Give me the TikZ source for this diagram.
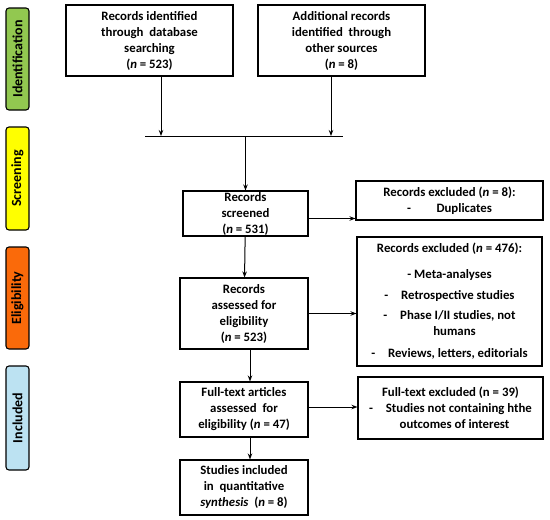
\documentclass[tikz,border=0pt]{standalone}
\usepackage{fontspec}
\setmainfont{Carlito}
\usepackage{xcolor}
\usepackage{tikz}
\usetikzlibrary{arrows.meta}
\definecolor{stgreen}{HTML}{92C850}
\definecolor{styellow}{HTML}{FFFF00}
\definecolor{storange}{HTML}{FA6A0A}
\definecolor{stblue}{HTML}{BCE2F2}

\begin{document}
\begin{tikzpicture}[x=1pt,y=-1pt,
  stage/.style={draw,line width=1.1pt,rounded corners=3pt,minimum width=23pt,
    inner sep=0pt,font=\bfseries\fontsize{14}{16}\selectfont},
  flowbox/.style={draw,line width=1.1pt,align=center,inner sep=0pt,
    font=\bfseries\fontsize{12.8}{16}\selectfont},
  arr/.style={line width=1pt,-{Stealth[length=6pt,width=4.5pt]}}]
  \useasboundingbox (0,0) rectangle (550,520);
  % stages
  \node[stage,fill=stgreen,minimum height=102pt] (ident) at (17.5,59) {\rotatebox{90}{Identification}};
  \node[stage,fill=styellow,minimum height=103pt] (screen) at (17.5,178.5) {\rotatebox{90}{Screening}};
  \node[stage,fill=storange,minimum height=102pt] (elig) at (17.5,298) {\rotatebox{90}{Eligibility}};
  \node[stage,fill=stblue,minimum height=104pt] (incl) at (17.5,418) {\rotatebox{90}{Included}};
  % boxes
  \node[flowbox,minimum width=167pt,minimum height=71pt] (dbrec) at (149.5,40.5)
    {Records identified\\through\ \ database\\searching\\(\textit{n} = 523)};
  \node[flowbox,minimum width=167pt,minimum height=71pt] (otherrec) at (341.5,40.5)
    {Additional records\\identified\ \ through\\other sources\\(\textit{n} = 8)};
  \node[flowbox,minimum width=125pt,minimum height=45pt] (screened) at (245.5,213.5)
    {Records\\screened\\(\textit{n} = 531)};
  \node[flowbox,minimum width=187pt,minimum height=39pt] (dupl) at (449.5,200.5)
    {Records excluded (\textit{n} = 8):\\-\qquad Duplicates};
  \node[flowbox,minimum width=128pt,minimum height=71pt] (assessed) at (244,313.5)
    {Records\\assessed for\\eligibility\\(\textit{n} = 523)};
  \node[flowbox,minimum width=185pt,minimum height=129pt] (recexcl) at (449.5,301.5)
    {Records excluded (\textit{n} = 476):\\[10pt]- Meta-analyses\\[5pt]
     -\quad Retrospective studies\\[4pt]-\quad Phase I/II studies, not\\
     \hspace*{10pt}humans\\[6pt]-\quad Reviews, letters, editorials};
  \node[flowbox,minimum width=128pt,minimum height=55pt] (fulltext) at (244,409.5)
    {Full-text articles\\assessed\ \ for\\eligibility (\textit{n} = 47)};
  \node[flowbox,minimum width=185pt,minimum height=62pt] (ftexcl) at (450.5,408)
    {Full-text excluded (n = 39)\\-\quad Studies not containing hthe\\
     \hspace*{8pt}outcomes of interest};
  \node[flowbox,minimum width=128pt,minimum height=55pt] (studies) at (244,487.5)
    {Studies included\\in\ \ quantitative\\\textit{synthesis}\ \ (\textit{n} = 8)};
  % merge line
  \coordinate (mleft) at (145,136);
  \coordinate (mright) at (343,136);
  \coordinate (m1) at (161,136);
  \coordinate (m2) at (331,136);
  \coordinate (mmid) at (245.5,136);
  \draw[line width=1pt] (mleft) -- (mright);
  \draw[arr] (dbrec.south -| m1) -- (m1);
  \draw[arr] (otherrec.south -| m2) -- (m2);
  \draw[arr] (mmid) -- (screened.north);
  % main flow
  \draw[arr] (screened) -- (assessed);
  \draw[arr] ([xshift=6pt]assessed.south) -- ([xshift=6pt]fulltext.north);
  \draw[arr] ([xshift=6pt]fulltext.south) -- ([xshift=6pt]studies.north);
  % exclusions
  \draw[arr] ([yshift=-5pt]screened.east) -- ([yshift=-5pt]screened.east -| dupl.west);
  \draw[arr] (assessed.east) -- (assessed.east -| recexcl.west);
  \draw[arr] ([yshift=2.5pt]fulltext.east) -- ([yshift=2.5pt]fulltext.east -| ftexcl.west);
\end{tikzpicture}
\end{document}
